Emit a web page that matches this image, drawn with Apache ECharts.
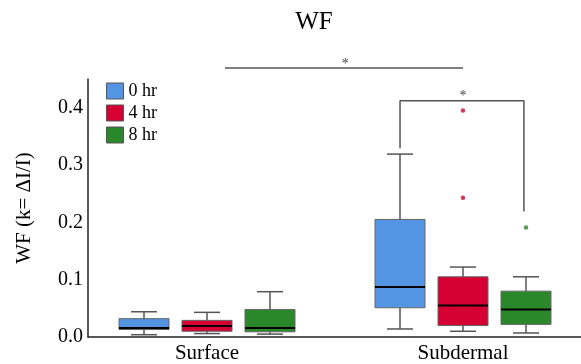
<!DOCTYPE html>
<html>
<head>
<meta charset="utf-8">
<script src="https://cdn.jsdelivr.net/npm/echarts@6/dist/echarts.min.js"></script>
<style>
  html, body { margin: 0; padding: 0; background: #fff; }
  #chart { width: 581px; height: 364px; }
</style>
</head>
<body>
<div id="chart"></div>
<script>
const groups = ['Surface', 'Subdermal'];
const hours = ['0 hr', '4 hr', '8 hr'];
const colors = ['#5394e3', '#d60032', '#2a872a'];

// [min, Q1, median, Q3, max] for Surface, Subdermal
const box0 = [[0.004, 0.013, 0.0155, 0.032, 0.044], [0.014, 0.051, 0.087, 0.205, 0.319]];
const box4 = [[0.006, 0.010, 0.019, 0.029, 0.043], [0.010, 0.020, 0.055, 0.105, 0.122]];
const box8 = [[0.005, 0.009, 0.0155, 0.048, 0.079], [0.007, 0.022, 0.048, 0.080, 0.105]];

// outliers [group index, value]
const out4 = [[1, 0.395], [1, 0.243]];
const out8 = [[1, 0.191]];

// significance brackets [x, y] in axis units, with star position
const bracketA = [[0.07, 0.469], [1.0, 0.469]];
const bracketB = [[0.754, 0.329], [0.754, 0.412], [1.238, 0.412], [1.238, 0.219]];
const stars = [[0.54, 0.469], [1.0, 0.412]];

const boxOffsets = [-63, 0, 63];
const serif = 'Liberation Serif';

let chart = echarts.init(document.getElementById('chart'));

const boxSeries = (name, color, data, offset) => ({
  type: 'custom',
  name: name,
  data: data.map((d, i) => [i].concat(d)),
  encode: { x: 0, y: [1, 2, 3, 4, 5] },
  itemStyle: { color: color },
  renderItem: (params, api) => {
    const x = api.coord([api.value(0), 0])[0] + offset;
    const py = k => api.coord([0, api.value(k)])[1];
    const yMin = py(1), yQ1 = py(2), yMed = py(3), yQ3 = py(4), yMax = py(5);
    const w = 50, cw = 26;
    const ws = { stroke: '#555', lineWidth: 1.5 };
    return {
      type: 'group',
      children: [
        { type: 'line', shape: { x1: x, y1: yQ3, x2: x, y2: yMax }, style: ws },
        { type: 'line', shape: { x1: x - cw / 2, y1: yMax, x2: x + cw / 2, y2: yMax }, style: ws },
        { type: 'line', shape: { x1: x, y1: yQ1, x2: x, y2: yMin }, style: ws },
        { type: 'line', shape: { x1: x - cw / 2, y1: yMin, x2: x + cw / 2, y2: yMin }, style: ws },
        { type: 'rect', shape: { x: x - w / 2, y: yQ3, width: w, height: yQ1 - yQ3 },
          style: { fill: color, stroke: '#666', lineWidth: 1 } },
        { type: 'line', shape: { x1: x - w / 2, y1: yMed, x2: x + w / 2, y2: yMed },
          style: { stroke: '#000', lineWidth: 2 } }
      ]
    };
  }
});

const outlierSeries = (name, color, data, offset) => ({
  type: 'scatter',
  name: name,
  data: data,
  symbolSize: 4.5,
  symbolOffset: [offset, 0],
  itemStyle: { color: color },
  silent: true
});

const bracketSeries = (data) => ({
  type: 'line',
  data: data,
  symbol: 'none',
  clip: false,
  silent: true,
  lineStyle: { color: '#555', width: 1.5 }
});

let option = {
  animation: false,
  title: {
    text: 'WF',
    left: 309,
    textAlign: 'center',
    top: 5,
    textStyle: { fontFamily: serif, fontSize: 25, fontWeight: 'normal', color: '#000' }
  },
  legend: {
    data: hours,
    orient: 'vertical',
    left: 106,
    top: 82,
    padding: 0,
    itemWidth: 17,
    itemHeight: 16,
    itemGap: 4,
    icon: 'rect',
    itemStyle: { borderColor: '#555', borderWidth: 1 },
    textStyle: { fontFamily: serif, fontSize: 18, color: '#000' }
  },
  grid: { left: 88, right: 0, top: 79, bottom: 24, containLabel: false },
  xAxis: {
    type: 'value',
    min: -119 / 256,
    max: 374 / 256,
    axisLine: { onZero: false, lineStyle: { color: '#222', width: 1.5 } },
    axisTick: { show: false },
    splitLine: { show: false },
    axisLabel: {
      customValues: [0, 1],
      formatter: v => groups[Math.round(v)],
      fontFamily: serif,
      fontSize: 21,
      color: '#000',
      margin: 6
    }
  },
  yAxis: {
    type: 'value',
    min: 0,
    max: 0.45,
    interval: 0.1,
    name: 'WF (k= ΔI/I)',
    nameLocation: 'middle',
    nameGap: 41,
    nameTextStyle: { fontFamily: serif, fontSize: 21, color: '#000', padding: [0, 0, 12, 0] },
    axisLine: { show: true, onZero: false, lineStyle: { color: '#222', width: 1.5 } },
    axisTick: { show: false },
    splitLine: { show: false },
    axisLabel: {
      formatter: v => Math.abs(v * 10 - Math.round(v * 10)) < 1e-6 ? v.toFixed(1) : '',
      fontFamily: serif,
      fontSize: 20,
      color: '#000',
      margin: 5
    }
  },
  series: [
    boxSeries(hours[0], colors[0], box0, boxOffsets[0]),
    boxSeries(hours[1], colors[1], box4, boxOffsets[1]),
    boxSeries(hours[2], colors[2], box8, boxOffsets[2]),
    outlierSeries('4 hr outliers', colors[1], out4, boxOffsets[1]),
    outlierSeries('8 hr outliers', colors[2], out8, boxOffsets[2]),
    bracketSeries(bracketA),
    bracketSeries(bracketB),
    {
      type: 'custom',
      data: stars,
      silent: true,
      renderItem: (params, api) => {
        const p = api.coord([api.value(0), api.value(1)]);
        return {
          type: 'text',
          style: { text: '*', x: p[0], y: p[1] + 3, align: 'center', verticalAlign: 'bottom',
                   fontFamily: serif, fontSize: 14, fill: '#444' }
        };
      }
    }
  ]
};

chart.setOption(option);
</script>
</body>
</html>
